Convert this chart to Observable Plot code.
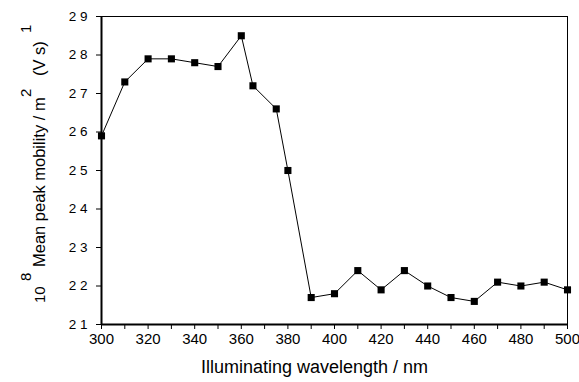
<!DOCTYPE html>
<html>
<head>
<meta charset="utf-8">
<script src="https://cdn.jsdelivr.net/npm/d3@7"></script>
<script src="https://cdn.jsdelivr.net/npm/@observablehq/plot@0.6"></script>
<style>
  html, body { margin: 0; padding: 0; background: white; }
</style>
</head>
<body>
<div id="chart"></div>
<script>
const wavelengths = [300, 310, 320, 330, 340, 350, 360, 365, 375, 380, 390, 400, 410, 420, 430, 440, 450, 460, 470, 480, 490, 500];
const mobility    = [2.59, 2.73, 2.79, 2.79, 2.78, 2.77, 2.85, 2.72, 2.66, 2.50, 2.17, 2.18, 2.24, 2.19, 2.24, 2.20, 2.17, 2.16, 2.21, 2.20, 2.21, 2.19];
const xTicks = [300, 320, 340, 360, 380, 400, 420, 440, 460, 480, 500];
const xMinorTicks = [310, 330, 350, 370, 390, 410, 430, 450, 470, 490];
const yTicks = [2.1, 2.2, 2.3, 2.4, 2.5, 2.6, 2.7, 2.8, 2.9];
const xLabel = "Illuminating wavelength / nm";

const data = wavelengths.map((w, i) => ({w, m: mobility[i]}));

const plot = Plot.plot({
  width: 579,
  height: 382,
  marginLeft: 101,
  marginRight: 12,
  marginTop: 16,
  marginBottom: 58,
  style: {fontFamily: "Arial, 'Liberation Sans', sans-serif", fontSize: "14px", color: "black", background: "white"},
  x: {domain: [300, 500]},
  y: {domain: [2.1, 2.9]},
  marks: [
    Plot.frame({stroke: "black", strokeWidth: 1}),
    Plot.ruleX([300], {stroke: "black", strokeWidth: 2}),
    Plot.ruleY([2.1], {stroke: "black", strokeWidth: 2}),
    Plot.axisX({ticks: xTicks, tickSize: 5, tickPadding: 4, label: null, fontSize: 15}),
    Plot.axisX({ticks: xMinorTicks, tickSize: 5, text: null, label: null}),
    Plot.axisY({ticks: yTicks, tickSize: 5, tickPadding: 9, label: null, fontSize: 13.5,
      tickFormat: d => d.toFixed(1).replace(".", " ")}),
    Plot.line(data, {x: "w", y: "m", stroke: "black", strokeWidth: 1}),
    Plot.dot(data, {x: "w", y: "m", symbol: "square", fill: "black", r: 4}),
    Plot.text([xLabel], {frameAnchor: "bottom", dy: 48, dx: -20, fontSize: 18, text: d => d})
  ]
});

const svg = d3.select(plot);
const yl = svg.append("text")
  .attr("transform", "rotate(-90)")
  .attr("fill", "black")
  .attr("text-anchor", "start")
  .style("font-family", "Arial, 'Liberation Sans', sans-serif");
const parts = [
  {t: "10", start: 303, base: 45, size: 15},
  {t: "8", start: 281, base: 31, size: 15},
  {t: "Mean peak mobility / m", start: 267, base: 45, size: 16.5},
  {t: "2", start: 97, base: 31, size: 15},
  {t: "(V s)", start: 76, base: 45, size: 16.5},
  {t: "1", start: 33, base: 31, size: 15}
];
for (const p of parts) {
  yl.append("tspan").attr("x", -p.start).attr("y", p.base).attr("font-size", p.size)
    .attr("text-anchor", "start").text(p.t);
}

document.getElementById("chart").appendChild(plot);
</script>
</body>
</html>
